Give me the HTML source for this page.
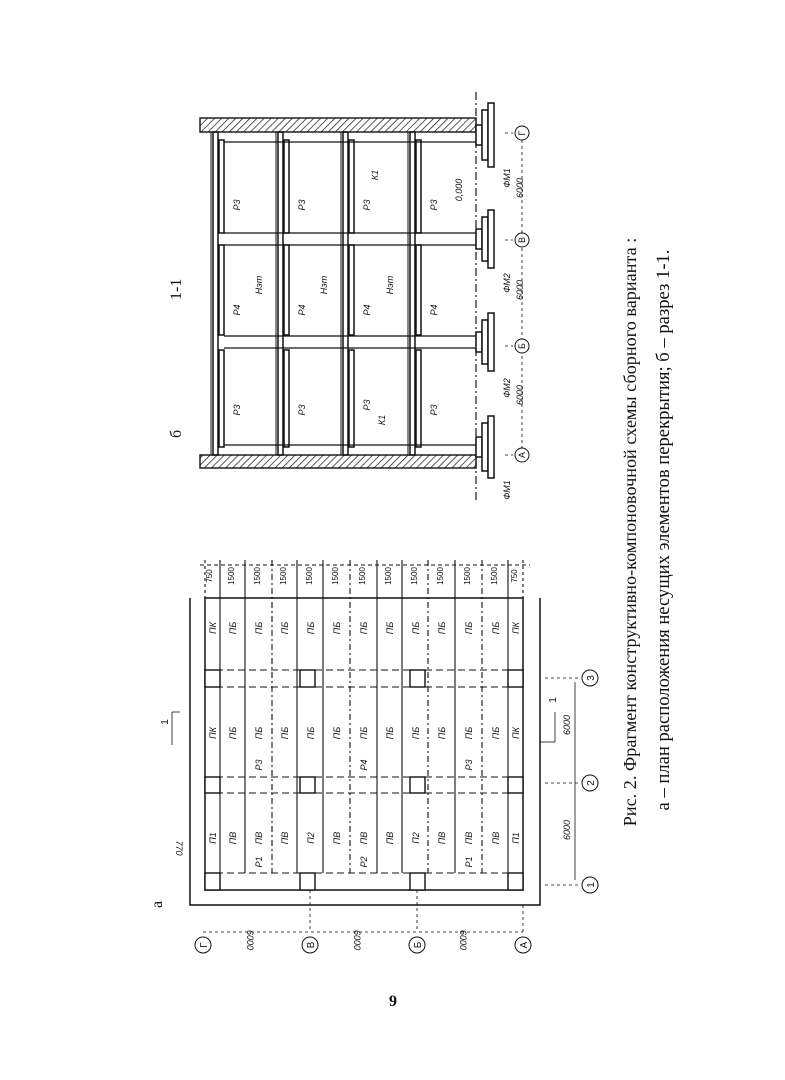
<!DOCTYPE html>
<html><head><meta charset="utf-8"><style>
html,body{margin:0;padding:0;background:#fff}
svg{display:block}
text{font-family:"Liberation Sans",sans-serif;fill:#111}
.s{font-family:"Liberation Serif",serif}
.k{stroke:#111;fill:none}
</style></head><body>
<svg width="785" height="1080" viewBox="0 0 785 1080" xmlns="http://www.w3.org/2000/svg">
<defs>
<pattern id="h" width="5" height="5" patternUnits="userSpaceOnUse" patternTransform="rotate(45)"><line x1="0" y1="0" x2="0" y2="5" stroke="#111" stroke-width="1.4"/></pattern>
</defs>
<text class="s" font-size="16" transform="translate(181,438) rotate(-90)">б</text>
<text class="s" font-size="16" transform="translate(181,300) rotate(-90)">1-1</text>
<rect x="200" y="118" width="276" height="14" fill="url(#h)" stroke="#111" stroke-width="1.4"/>
<rect x="200" y="455" width="276" height="13" fill="url(#h)" stroke="#111" stroke-width="1.4"/>
<line x1="476" y1="92" x2="476" y2="500" stroke="#111" stroke-width="1.2" stroke-dasharray="8,3,2,3"/>
<g stroke="#111" fill="none">
<rect x="213" y="132" width="5" height="323" stroke-width="1.5"/>
<rect x="278" y="132" width="5" height="323" stroke-width="1.5"/>
<rect x="343" y="132" width="5" height="323" stroke-width="1.5"/>
<rect x="410" y="132" width="5" height="323" stroke-width="1.5"/>
<line x1="211" y1="132" x2="211" y2="455"/><line x1="276" y1="132" x2="276" y2="455"/><line x1="341" y1="132" x2="341" y2="455"/><line x1="408" y1="132" x2="408" y2="455"/>
</g>
<g fill="#fff" stroke="#111" stroke-width="1.5">
<rect x="219" y="140" width="5" height="93"/><rect x="219" y="245" width="5" height="90"/><rect x="219" y="350" width="5" height="97"/>
<rect x="284" y="140" width="5" height="93"/><rect x="284" y="245" width="5" height="90"/><rect x="284" y="350" width="5" height="97"/>
<rect x="349" y="140" width="5" height="93"/><rect x="349" y="245" width="5" height="90"/><rect x="349" y="350" width="5" height="97"/>
<rect x="416" y="140" width="5" height="93"/><rect x="416" y="245" width="5" height="90"/><rect x="416" y="350" width="5" height="97"/>
</g>
<g stroke="#111" fill="none" stroke-width="1.2">
<line x1="224" y1="233" x2="476" y2="233"/><line x1="224" y1="245" x2="476" y2="245"/>
<line x1="224" y1="336" x2="476" y2="336"/><line x1="224" y1="348" x2="476" y2="348"/>
<line x1="224" y1="142" x2="476" y2="142"/><line x1="224" y1="445" x2="476" y2="445"/>
</g>
<g fill="#fff" stroke="#111" stroke-width="1.5">
<rect x="476" y="125" width="6" height="20"/><rect x="482" y="110" width="6" height="50"/><rect x="488" y="103" width="6" height="64"/>
<rect x="476" y="229" width="6" height="20"/><rect x="482" y="217" width="6" height="44"/><rect x="488" y="210" width="6" height="58"/>
<rect x="476" y="332" width="6" height="20"/><rect x="482" y="320" width="6" height="44"/><rect x="488" y="313" width="6" height="58"/>
<rect x="476" y="437" width="6" height="20"/><rect x="482" y="423" width="6" height="48"/><rect x="488" y="416" width="6" height="62"/>
</g>
<g stroke="#111" stroke-dasharray="3,3" stroke-width="0.8">
<line x1="505" y1="133" x2="513" y2="133"/><line x1="505" y1="240" x2="513" y2="240"/><line x1="505" y1="346" x2="513" y2="346"/><line x1="505" y1="455" x2="513" y2="455"/>
<line x1="522" y1="140" x2="522" y2="448"/>
</g>
<g fill="#fff" stroke="#111"><circle cx="522" cy="133" r="7"/><circle cx="522" cy="240" r="7"/><circle cx="522" cy="346" r="7"/><circle cx="522" cy="455" r="7"/></g>
<g font-size="9" text-anchor="middle">
<text transform="translate(525,133) rotate(-90)">Г</text><text transform="translate(525,240) rotate(-90)">В</text><text transform="translate(525,346) rotate(-90)">Б</text><text transform="translate(525,455) rotate(-90)">А</text>
</g>
<g font-size="9" font-style="italic" text-anchor="middle">
<text transform="translate(510,178) rotate(-90)">ФМ1</text><text transform="translate(510,283) rotate(-90)">ФМ2</text><text transform="translate(510,388) rotate(-90)">ФМ2</text><text transform="translate(510,490) rotate(-90)">ФМ1</text>
<text transform="translate(523,188) rotate(-90)">6000</text><text transform="translate(523,290) rotate(-90)">6000</text><text transform="translate(523,395) rotate(-90)">6000</text>
<text transform="translate(240,205) rotate(-90)">Р3</text><text transform="translate(305,205) rotate(-90)">Р3</text><text transform="translate(370,205) rotate(-90)">Р3</text><text transform="translate(437,205) rotate(-90)">Р3</text>
<text transform="translate(240,310) rotate(-90)">Р4</text><text transform="translate(305,310) rotate(-90)">Р4</text><text transform="translate(370,310) rotate(-90)">Р4</text><text transform="translate(437,310) rotate(-90)">Р4</text>
<text transform="translate(240,410) rotate(-90)">Р3</text><text transform="translate(305,410) rotate(-90)">Р3</text><text transform="translate(370,405) rotate(-90)">Р3</text><text transform="translate(437,410) rotate(-90)">Р3</text>
<text transform="translate(262,285) rotate(-90)">Нэт</text><text transform="translate(327,285) rotate(-90)">Нэт</text><text transform="translate(393,285) rotate(-90)">Нэт</text>
<text transform="translate(378,175) rotate(-90)">К1</text><text transform="translate(385,420) rotate(-90)">К1</text>
<text transform="translate(462,190) rotate(-90)">0,000</text>
</g>
<text class="s" font-size="16" transform="translate(162,908) rotate(-90)">а</text>
<g class="k" stroke-width="1.5">
<polyline points="190,598 190,905 540,905 540,598"/>
<rect x="205" y="598" width="318" height="292"/>
</g>
<g stroke="#111" stroke-width="1.1">
<line x1="205" y1="670" x2="523" y2="670" stroke-dasharray="7,4"/><line x1="205" y1="687" x2="523" y2="687" stroke-dasharray="7,4"/>
<line x1="205" y1="777" x2="523" y2="777" stroke-dasharray="7,4"/><line x1="205" y1="793" x2="523" y2="793" stroke-dasharray="7,4"/>
<line x1="205" y1="873" x2="523" y2="873" stroke-dasharray="7,4"/>
<line x1="220" y1="560" x2="220" y2="890"/><line x1="245" y1="560" x2="245" y2="873"/><line x1="272" y1="560" x2="272" y2="873" stroke-dasharray="6,3,2,3"/><line x1="297" y1="560" x2="297" y2="873"/>
<line x1="323" y1="560" x2="323" y2="873"/><line x1="350" y1="560" x2="350" y2="873" stroke-dasharray="6,3,2,3"/><line x1="377" y1="560" x2="377" y2="873"/><line x1="402" y1="560" x2="402" y2="873"/>
<line x1="428" y1="560" x2="428" y2="873" stroke-dasharray="6,3,2,3"/><line x1="455" y1="560" x2="455" y2="873"/><line x1="482" y1="560" x2="482" y2="873" stroke-dasharray="6,3,2,3"/><line x1="508" y1="560" x2="508" y2="890"/>
<line x1="205" y1="560" x2="205" y2="598" stroke-dasharray="3,3"/><line x1="523" y1="560" x2="523" y2="598" stroke-dasharray="3,3"/>
<line x1="200" y1="565" x2="530" y2="565" stroke-dasharray="4,3"/>
</g>
<g fill="#fff" stroke="#111" stroke-width="1.4">
<rect x="205" y="670" width="15" height="17"/><rect x="300" y="670" width="15" height="17"/><rect x="410" y="670" width="15" height="17"/><rect x="508" y="670" width="15" height="17"/>
<rect x="205" y="777" width="15" height="16"/><rect x="300" y="777" width="15" height="16"/><rect x="410" y="777" width="15" height="16"/><rect x="508" y="777" width="15" height="16"/>
<rect x="205" y="873" width="15" height="17"/><rect x="300" y="873" width="15" height="17"/><rect x="410" y="873" width="15" height="17"/><rect x="508" y="873" width="15" height="17"/>
</g>
<g font-size="9" font-style="italic" text-anchor="middle">
<text transform="translate(216,628) rotate(-90)">ПК</text><text transform="translate(236,628) rotate(-90)">ПБ</text><text transform="translate(262,628) rotate(-90)">ПБ</text><text transform="translate(288,628) rotate(-90)">ПБ</text><text transform="translate(314,628) rotate(-90)">ПБ</text><text transform="translate(340,628) rotate(-90)">ПБ</text><text transform="translate(367,628) rotate(-90)">ПБ</text><text transform="translate(393,628) rotate(-90)">ПБ</text><text transform="translate(419,628) rotate(-90)">ПБ</text><text transform="translate(445,628) rotate(-90)">ПБ</text><text transform="translate(472,628) rotate(-90)">ПБ</text><text transform="translate(499,628) rotate(-90)">ПБ</text><text transform="translate(519,628) rotate(-90)">ПК</text>
<text transform="translate(216,733) rotate(-90)">ПК</text><text transform="translate(236,733) rotate(-90)">ПБ</text><text transform="translate(262,733) rotate(-90)">ПБ</text><text transform="translate(288,733) rotate(-90)">ПБ</text><text transform="translate(314,733) rotate(-90)">ПБ</text><text transform="translate(340,733) rotate(-90)">ПБ</text><text transform="translate(367,733) rotate(-90)">ПБ</text><text transform="translate(393,733) rotate(-90)">ПБ</text><text transform="translate(419,733) rotate(-90)">ПБ</text><text transform="translate(445,733) rotate(-90)">ПБ</text><text transform="translate(472,733) rotate(-90)">ПБ</text><text transform="translate(499,733) rotate(-90)">ПБ</text><text transform="translate(519,733) rotate(-90)">ПК</text>
<text transform="translate(262,765) rotate(-90)">Р3</text><text transform="translate(367,765) rotate(-90)">Р4</text><text transform="translate(472,765) rotate(-90)">Р3</text>
<text transform="translate(216,838) rotate(-90)">П1</text><text transform="translate(236,838) rotate(-90)">ПВ</text><text transform="translate(262,838) rotate(-90)">ПВ</text><text transform="translate(288,838) rotate(-90)">ПВ</text><text transform="translate(314,838) rotate(-90)">П2</text><text transform="translate(340,838) rotate(-90)">ПВ</text><text transform="translate(367,838) rotate(-90)">ПВ</text><text transform="translate(393,838) rotate(-90)">ПВ</text><text transform="translate(419,838) rotate(-90)">П2</text><text transform="translate(445,838) rotate(-90)">ПВ</text><text transform="translate(472,838) rotate(-90)">ПВ</text><text transform="translate(499,838) rotate(-90)">ПВ</text><text transform="translate(519,838) rotate(-90)">П1</text>
<text transform="translate(262,862) rotate(-90)">Р1</text><text transform="translate(367,862) rotate(-90)">Р2</text><text transform="translate(472,862) rotate(-90)">Р1</text>
</g>
<g font-size="8" text-anchor="middle">
<text transform="translate(212,576) rotate(-90)">750</text><text transform="translate(234,576) rotate(-90)">1500</text><text transform="translate(260,576) rotate(-90)">1500</text><text transform="translate(286,576) rotate(-90)">1500</text><text transform="translate(312,576) rotate(-90)">1500</text><text transform="translate(338,576) rotate(-90)">1500</text><text transform="translate(365,576) rotate(-90)">1500</text><text transform="translate(391,576) rotate(-90)">1500</text><text transform="translate(417,576) rotate(-90)">1500</text><text transform="translate(443,576) rotate(-90)">1500</text><text transform="translate(470,576) rotate(-90)">1500</text><text transform="translate(497,576) rotate(-90)">1500</text><text transform="translate(517,576) rotate(-90)">750</text>
</g>
<g stroke="#111" stroke-width="0.8" stroke-dasharray="3,3">
<line x1="203" y1="932" x2="523" y2="932"/>
<line x1="310" y1="890" x2="310" y2="932"/><line x1="417" y1="890" x2="417" y2="932"/><line x1="523" y1="905" x2="523" y2="932"/>
</g>
<g fill="#fff" stroke="#111"><circle cx="203" cy="945" r="8"/><circle cx="310" cy="945" r="8"/><circle cx="417" cy="945" r="8"/><circle cx="523" cy="945" r="8"/></g>
<g font-size="10" text-anchor="middle">
<text transform="translate(207,945) rotate(-90)">Г</text><text transform="translate(314,945) rotate(-90)">В</text><text transform="translate(421,945) rotate(-90)">Б</text><text transform="translate(527,945) rotate(-90)">А</text>
</g>
<g font-size="9" font-style="italic" text-anchor="middle">
<text transform="translate(247,940) rotate(90)">6000</text><text transform="translate(354,940) rotate(90)">6000</text><text transform="translate(460,940) rotate(90)">6000</text>
<text transform="translate(176,848) rotate(90)">770</text>
<text transform="translate(570,830) rotate(-90)">6000</text><text transform="translate(570,725) rotate(-90)">6000</text>
</g>
<g stroke="#111" stroke-width="0.8">
<line x1="575" y1="682" x2="575" y2="880"/>
<line x1="545" y1="885" x2="580" y2="885" stroke-dasharray="3,3"/><line x1="545" y1="783" x2="580" y2="783" stroke-dasharray="3,3"/><line x1="545" y1="678" x2="580" y2="678" stroke-dasharray="3,3"/>
<line x1="172" y1="745" x2="172" y2="712"/><line x1="172" y1="712" x2="180" y2="712"/>
<line x1="540" y1="742" x2="555" y2="742"/><line x1="555" y1="742" x2="555" y2="712"/>
</g>
<g fill="#fff" stroke="#111"><circle cx="590" cy="885" r="8"/><circle cx="590" cy="783" r="8"/><circle cx="590" cy="678" r="8"/></g>
<g font-size="10" text-anchor="middle">
<text transform="translate(594,885) rotate(-90)">1</text><text transform="translate(594,783) rotate(-90)">2</text><text transform="translate(594,678) rotate(-90)">3</text>
<text transform="translate(168,722) rotate(-90)">1</text><text transform="translate(556,700) rotate(-90)">1</text>
</g>
<text class="s" font-size="18.2" text-anchor="middle" transform="translate(636,532) rotate(-90)">Рис. 2. Фрагмент конструктивно-компоновочной схемы сборного варианта :</text>
<text class="s" font-size="18.6" text-anchor="middle" transform="translate(669,530) rotate(-90)">а – план расположения несущих элементов перекрытия; б – разрез 1-1.</text>
<text class="s" font-size="16" font-weight="bold" text-anchor="middle" x="393" y="1006">9</text>
</svg>
</body></html>
